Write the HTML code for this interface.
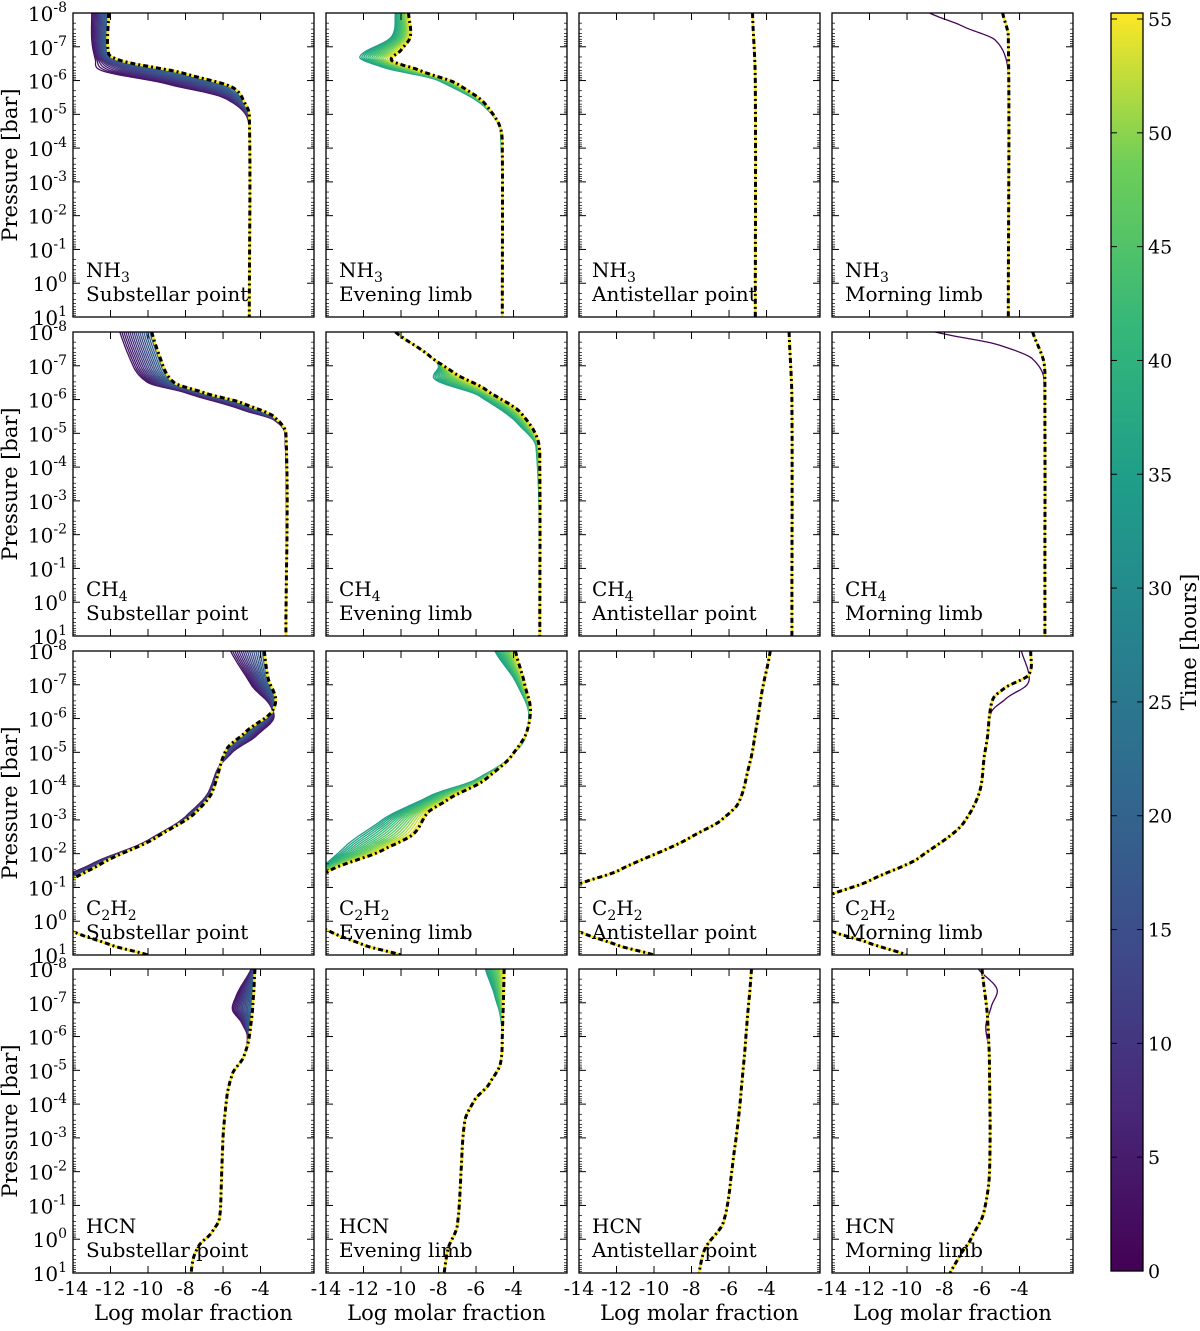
<!DOCTYPE html>
<html><head><meta charset="utf-8"><style>
html,body{margin:0;padding:0;background:#fff}
svg text{font-family:"DejaVu Serif","Liberation Serif",serif;fill:#000}
</style></head><body>
<svg id="fig" xmlns="http://www.w3.org/2000/svg" width="1200" height="1326" viewBox="0 0 1200 1326">
<defs>
<linearGradient id="vir" x1="0" y1="1" x2="0" y2="0">
<stop offset="0" stop-color="#440154"/><stop offset="0.13" stop-color="#482878"/><stop offset="0.25" stop-color="#3e4989"/><stop offset="0.38" stop-color="#31688e"/><stop offset="0.5" stop-color="#26828e"/><stop offset="0.63" stop-color="#1f9e89"/><stop offset="0.75" stop-color="#35b779"/><stop offset="0.88" stop-color="#6ece58"/><stop offset="1" stop-color="#fde725"/>
</linearGradient>
</defs>
</svg>
<script>
// ---- data ----
const species = ["NH3","CH4","C2H2","HCN"];
const speciesHtml = [["NH","3"],["CH","4"],["C","2","H","2"],["HCN"]];
const locations = ["Substellar point","Evening limb","Antistellar point","Morning limb"];
const xTicks = [-14,-12,-10,-8,-6,-4];
const yTicks = [-8,-7,-6,-5,-4,-3,-2,-1,0,1];
const cbTicks = [0,5,10,15,20,25,30,35,40,45,50,55];
const timeRanges = [[3,22],[35,55],null,[1,1]];
// final profiles [logX, logP]
const finalNH3 = [
 [[-12.1,-8],[-12.1,-6.8],[-11.5,-6.6],[-8,-6.2],[-5.5,-5.8],[-4.9,-5.4],[-4.6,-5],[-4.6,1]],
 [[-9.6,-8],[-9.5,-7.3],[-10,-6.9],[-10.5,-6.6],[-9,-6.3],[-7,-5.9],[-5.5,-5.3],[-4.7,-4.6],[-4.6,-4],[-4.6,1]],
 [[-4.75,-8],[-4.6,-6],[-4.6,1]],
 [[-4.9,-8],[-4.6,-7.3],[-4.6,1]]];
const earlyNH3 = [
 [[-13,-8],[-13,-7.2],[-12.8,-6.6],[-12.5,-6.3],[-9,-5.9],[-6,-5.5],[-4.8,-5.0],[-4.6,-4.5],[-4.6,1]],
 [[-10.3,-8],[-10.5,-7.3],[-12.2,-6.7],[-11,-6.4],[-8,-6],[-5.5,-5.2],[-4.7,-4.5],[-4.6,1]],
 null,
 [[-8.8,-8],[-7,-7.6],[-5.3,-7.2],[-4.7,-6.6],[-4.6,-6],[-4.6,1]]];
const finalCH4 = [
 [[-9.8,-8],[-9.2,-7],[-8.6,-6.5],[-7,-6.2],[-5,-5.9],[-3.3,-5.5],[-2.65,-5],[-2.65,1]],
 [[-10.3,-8],[-8.5,-7.3],[-7.2,-6.8],[-5.5,-6.3],[-3.6,-5.6],[-2.7,-4.8],[-2.6,-4],[-2.6,1]],
 [[-2.8,-8],[-2.65,-6],[-2.65,1]],
 [[-3.3,-8],[-2.7,-7.1],[-2.65,-6.5],[-2.65,1]]];
const earlyCH4 = [
 [[-11.5,-8],[-10.8,-7],[-10,-6.5],[-8,-6.2],[-5,-5.7],[-3.3,-5.4],[-2.7,-5],[-2.65,1]],
 [[-10.3,-8],[-8.5,-7.3],[-8,-7],[-8.2,-6.6],[-5.8,-6.1],[-3.8,-5.3],[-2.8,-4.6],[-2.6,1]],
 null,
 [[-8.5,-8],[-5,-7.6],[-3.3,-7.2],[-2.7,-6.6],[-2.65,1]]];
const finalC2H2 = [
 [[-3.8,-8],[-3.6,-7.2],[-3.2,-6.6],[-3.4,-6.2],[-4.8,-5.6],[-5.8,-5.1],[-6.2,-4.5],[-6.6,-3.8],[-7.5,-3.2],[-9.5,-2.5],[-12.5,-1.7],[-14.2,-1.2],[-17,-0.5],[-14,0.3],[-12,0.7],[-10,1]],
 [[-3.9,-8],[-3.4,-7],[-3.1,-6.3],[-3.3,-5.6],[-4.1,-4.9],[-5.5,-4.2],[-7.5,-3.6],[-8.6,-3.2],[-9.3,-2.6],[-11,-2.1],[-13.8,-1.5],[-17,-0.5],[-13.8,0.3],[-12,0.7],[-10,1]],
 [[-3.8,-8],[-4.3,-6.6],[-4.7,-5.2],[-5.1,-4.2],[-5.5,-3.5],[-6.4,-3.0],[-8,-2.5],[-11.9,-1.5],[-14,-1.1],[-17,-0.5],[-14,0.3],[-12,0.7],[-10,1]],
 [[-3.4,-8],[-3.5,-7.3],[-4.8,-6.9],[-5.4,-6.6],[-5.6,-6.1],[-5.7,-5.5],[-5.9,-4.8],[-6.1,-3.9],[-7,-2.9],[-9.3,-1.9],[-12,-1.2],[-14,-0.8],[-17,-0.3],[-14,0.3],[-12,0.65],[-10,1]]];
const earlyC2H2 = [
 [[-5.6,-8],[-4.5,-7],[-3.5,-6.4],[-3.3,-6],[-4.2,-5.5],[-5.5,-5],[-6.3,-4.5],[-6.8,-3.8],[-8,-3.1],[-10,-2.4],[-13,-1.7],[-14.5,-1.3],[-17,-0.5],[-14,0.3],[-12,0.7],[-10,1]],
 [[-5,-8],[-3.8,-7],[-3.2,-6.2],[-3.4,-5.4],[-4.3,-4.8],[-6,-4.2],[-8.5,-3.7],[-11,-3.0],[-13,-2.2],[-14.2,-1.6],[-17,-0.5],[-13.8,0.3],[-12,0.7],[-10,1]],
 null,
 [[-3.9,-8],[-3.5,-7.3],[-3.6,-7.0],[-4.7,-6.6],[-5.5,-6.2],[-5.7,-5.5],[-5.9,-4.8],[-6.1,-3.9],[-7,-2.9],[-9.3,-1.9],[-12,-1.2],[-14,-0.8],[-17,-0.3],[-14,0.3],[-12,0.65],[-10,1]]];
const finalHCN = [
 [[-4.3,-8],[-4.4,-7],[-4.6,-6],[-4.9,-5.4],[-5.5,-4.9],[-5.8,-4.2],[-6.0,-3],[-6.1,-1.5],[-6.2,-0.6],[-6.6,-0.2],[-7.3,0.2],[-7.6,0.6],[-7.7,1]],
 [[-4.5,-8],[-4.6,-6],[-4.7,-5.2],[-5.3,-4.6],[-6.1,-4.1],[-6.6,-3.5],[-6.8,-2],[-7,-0.4],[-7.5,0.3],[-7.7,1]],
 [[-4.8,-8],[-5.1,-6],[-5.4,-4.1],[-5.9,-1.8],[-6.3,-0.5],[-7.3,0.3],[-7.6,1]],
 [[-6.0,-8],[-5.7,-6.5],[-5.6,-5],[-5.6,-2],[-5.9,-0.8],[-6.6,0],[-7.2,0.5],[-7.7,1]]];
const earlyHCN = [
 [[-4.5,-8],[-5.3,-7.2],[-5.5,-6.8],[-5.0,-6.4],[-4.7,-6],[-4.9,-5.4],[-5.5,-4.9],[-5.8,-4.2],[-6.0,-3],[-6.1,-1.5],[-6.2,-0.6],[-6.6,-0.2],[-7.3,0.2],[-7.6,0.6],[-7.7,1]],
 [[-5.5,-8],[-5.0,-7.2],[-4.7,-6.6],[-4.6,-6],[-4.7,-5.2],[-5.3,-4.6],[-6.1,-4.1],[-6.6,-3.5],[-6.8,-2],[-7,-0.4],[-7.5,0.3],[-7.7,1]],
 null,
 [[-6.2,-8],[-5.2,-7.4],[-5.5,-6.9],[-5.8,-6.3],[-5.6,-5.5],[-5.6,-2],[-5.9,-0.8],[-6.6,0],[-7.2,0.5],[-7.7,1]]];
const finals = [finalNH3, finalCH4, finalC2H2, finalHCN];
const earlies = [earlyNH3, earlyCH4, earlyC2H2, earlyHCN];

// ---- layout ----
const NS="http://www.w3.org/2000/svg";
const svg=document.getElementById('fig');
const colL=[73,326,579,832], rowT=[13,332,651,969], PW=241, PH=304;
const XMIN=-14, XMAX=-1.15, YMIN=-8, YMAX=1;
function sx(c,v){return colL[c]+(v-XMIN)/(XMAX-XMIN)*PW;}
function sy(r,v){return rowT[r]+(v-YMIN)/(YMAX-YMIN)*PH;}
function el(tag,attrs,parent){const e=document.createElementNS(NS,tag);for(const k in attrs)e.setAttribute(k,attrs[k]);(parent||svg).appendChild(e);return e;}
const vStops=[[0,[68,1,84]],[.13,[72,40,120]],[.25,[62,73,137]],[.38,[49,104,142]],[.5,[38,130,142]],[.63,[31,158,137]],[.75,[53,183,121]],[.88,[110,206,88]],[1,[253,231,37]]];
function viridis(t){t=Math.max(0,Math.min(1,t));for(let i=1;i<vStops.length;i++){if(t<=vStops[i][0]){const a=vStops[i-1],b=vStops[i];const f=(t-a[0])/(b[0]-a[0]);const c=a[1].map((x,j)=>Math.round(x+(b[1][j]-x)*f));return `rgb(${c[0]},${c[1]},${c[2]})`;}}return 'rgb(253,231,37)';}
// smooth x(lp) with cubic Hermite (lp as parameter)
function smooth(p){
 const n=p.length;if(n<3)return p.slice();
 const m=p.map((q,i)=>{const a=p[Math.max(0,i-1)],b=p[Math.min(n-1,i+1)];return (b[0]-a[0])/((b[1]-a[1])||1);});
 const out=[];
 for(let i=0;i<n-1;i++){const a=p[i],b=p[i+1],h=b[1]-a[1];
  for(let k=0;k<12;k++){const t=k/12,t2=t*t,t3=t2*t;
   const x=(2*t3-3*t2+1)*a[0]+(t3-2*t2+t)*h*m[i]*0.8+(-2*t3+3*t2)*b[0]+(t3-t2)*h*m[i+1]*0.8;
   out.push([x,a[1]+h*t]);}}
 out.push(p[n-1]);return out;}
function xAt(prof,lp){for(let i=1;i<prof.length;i++){if(lp<=prof[i][1]){const a=prof[i-1],b=prof[i];const f=(lp-a[1])/((b[1]-a[1])||1);return a[0]+(b[0]-a[0])*f;}}return prof[prof.length-1][0];}
function pathFrom(r,c,pts){return pts.map((p,i)=>(i?'L':'M')+sx(c,p[0]).toFixed(1)+','+sy(r,p[1]).toFixed(1)).join(' ');}

for(let r=0;r<4;r++){for(let c=0;c<4;c++){
 const g=el('g',{});
 
 
 const cid='clip'+r+c;
 const cp=el('clipPath',{id:cid},g);el('rect',{x:colL[c],y:rowT[r],width:PW,height:PH},cp);
 const lines=el('g',{'clip-path':`url(#${cid})`},g);
 const fin=smooth(finals[r][c]), earRaw=earlies[r][c], tr=timeRanges[c];
 if(earRaw&&tr){
  const ear=smooth(earRaw);
  const n=(tr[0]===tr[1])?0:16;
  for(let k=0;k<=n;k++){
   const w=n?k/n:0;const t=tr[0]+w*(tr[1]-tr[0]);
   const pts=[];for(let lp=YMIN;lp<=YMAX+1e-9;lp+=0.03){pts.push([xAt(ear,lp)*(1-w)+xAt(fin,lp)*w,lp]);}
   const p=el('path',{d:pathFrom(r,c,pts),fill:'none',stroke:viridis(t/55),'stroke-width':1.3},lines);
   
   
  }
 }
 const fy=el('path',{d:pathFrom(r,c,fin),fill:'none',stroke:'#fde725','stroke-width':2.5},lines);
 
 
 const fb=el('path',{d:pathFrom(r,c,fin),fill:'none',stroke:'#000','stroke-width':3,'stroke-dasharray':'5,3,2,3'},lines);
 
 
 // ticks
 for(const v of xTicks){const x=sx(c,v);el('line',{x1:x,y1:rowT[r]+PH,x2:x,y2:rowT[r]+PH-7,stroke:'#000'},g);el('line',{x1:x,y1:rowT[r],x2:x,y2:rowT[r]+7,stroke:'#000'},g);}
 for(const v of yTicks){const y=sy(r,v);el('line',{x1:colL[c],y1:y,x2:colL[c]+7,y2:y,stroke:'#000'},g);el('line',{x1:colL[c]+PW,y1:y,x2:colL[c]+PW-7,y2:y,stroke:'#000'},g);
  if(v<YMAX)for(let m=2;m<10;m++){const ym=sy(r,v+Math.log10(m));el('line',{x1:colL[c],y1:ym,x2:colL[c]+3,y2:ym,stroke:'#000','stroke-width':.7},g);el('line',{x1:colL[c]+PW,y1:ym,x2:colL[c]+PW-3,y2:ym,stroke:'#000','stroke-width':.7},g);}}
 el('rect',{x:colL[c],y:rowT[r],width:PW,height:PH,fill:'none',stroke:'#000','stroke-width':1.3},g);
 // labels
 const t1=el('text',{x:colL[c]+13,y:rowT[r]+264,'font-size':20},g);
 
 
 const parts=speciesHtml[r];
 parts.forEach((s,i)=>{const ts=el('tspan',{},t1);if(/\d/.test(s)){ts.setAttribute('font-size','14');ts.setAttribute('dy','5');}else if(i>0){ts.setAttribute('dy','-5');}ts.textContent=s;});
 const t2=el('text',{x:colL[c]+13,y:rowT[r]+288,'font-size':20},g);
 
 
 t2.textContent=locations[c];
 if(c===0){
  for(const v of yTicks){const t=el('text',{x:67,y:sy(r,v)+8,'font-size':20,'text-anchor':'end'},g);
   
   
   const a=el('tspan',{},t);a.textContent='10';const b=el('tspan',{dy:-9,'font-size':14},t);b.textContent=String(v);}
  const yl=el('text',{x:0,y:0,'font-size':21,'text-anchor':'middle',transform:`translate(17,${rowT[r]+PH/2}) rotate(-90)`},g);
  
  
  yl.textContent='Pressure [bar]';
 }
 if(r===3){
  for(const v of xTicks){const t=el('text',{x:sx(c,v),y:1295,'font-size':19,'text-anchor':'middle'},g);
   
   
   t.textContent=String(v);}
  const xl=el('text',{x:colL[c]+PW/2,y:1320,'font-size':21,'text-anchor':'middle'},g);
  
  
  xl.textContent='Log molar fraction';
 }
}}
// colorbar
const cb=el('g',{});


const CBX=1111,CBT=13,CBB=1271,CBW=32;
el('rect',{x:CBX,y:CBT,width:CBW,height:CBB-CBT,fill:'url(#vir)',stroke:'#000','stroke-width':1.3},cb);
for(const v of cbTicks){const y=CBB-(v/55)*(CBB-CBT-6);
 el('line',{x1:CBX+CBW,y1:y,x2:CBX+CBW-6,y2:y,stroke:'#000'},cb);
 el('line',{x1:CBX,y1:y,x2:CBX+6,y2:y,stroke:'#000'},cb);
 const t=el('text',{x:CBX+CBW+5,y:y+7,'font-size':19},cb);
 
 
 t.textContent=v;}
const ct=el('text',{x:0,y:0,'font-size':21,'text-anchor':'middle',transform:'translate(1196,642) rotate(-90)'},cb);


ct.textContent='Time [hours]';
</script>
</body></html>
